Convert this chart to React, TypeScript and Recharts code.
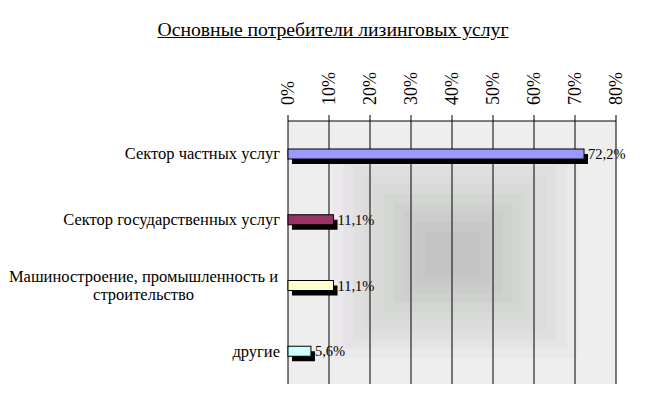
import React from 'react';
import { BarChart, Bar, XAxis, YAxis, CartesianGrid, LabelList } from 'recharts';

const categories = [
  'Сектор частных услуг',
  'Сектор государственных услуг',
  'Машиностроение, промышленность и строительство',
  'другие',
];
const values = [72.2, 11.1, 11.1, 5.6];
const valueLabels = ['72,2%', '11,1%', '11,1%', '5,6%'];
const xTicks = [0, 10, 20, 30, 40, 50, 60, 70, 80];
const frameTicks = [0, 1, 2, 3, 4];
const title = 'Основные потребители лизинговых услуг';

const barColors = ['#9999ff', '#993366', '#ffffcc', '#ccffff'];
const FONT = 'Liberation Serif, DejaVu Serif, serif';

// background rings (outer -> inner), colors of the plot-area fill
const ringColors = ['#ebe9eb', '#e6e3e6', '#e0dfe0', '#dbdcdb', '#d7dad7', '#d3d6d3', '#cfd1cf', '#cbcdcb', '#c7c8c7', '#c4c4c4'];

const data = categories.map((name, i) => ({ name, value: values[i], label: valueLabels[i] }));

const wrap = (s: string, max: number) => {
  const words = s.split(' ');
  const lines: string[] = [];
  let cur = '';
  for (const w of words) {
    const cand = cur ? cur + ' ' + w : w;
    if (cand.length > max && cur) {
      lines.push(cur);
      cur = w;
    } else cur = cand;
  }
  if (cur) lines.push(cur);
  return lines;
};

const ShadowBar = (props: any) => {
  const { x, y, width, height, index } = props;
  return (
    <g>
      <rect x={x + 4} y={y + 5} width={width} height={height} fill="#000" />
      <rect x={x} y={y} width={width} height={height} fill={barColors[index]} stroke="#000" strokeWidth={1} />
    </g>
  );
};

const YTick = (props: any) => {
  const { x, y, payload } = props;
  const lines = wrap(String(payload.value), 32);
  if (lines.length === 1) {
    return (
      <text x={x} y={y} textAnchor="end" dominantBaseline="central" fontFamily={FONT} fontSize={16.5} fill="#000">
        {lines[0]}
      </text>
    );
  }
  const cx = x - 136.5;
  return (
    <text x={cx} y={y} textAnchor="middle" fontFamily={FONT} fontSize={16.5} fill="#000">
      {lines.map((l, i) => (
        <tspan key={i} x={cx} y={y + (i - (lines.length - 1) / 2) * 18} dominantBaseline="central">
          {l}
        </tspan>
      ))}
    </text>
  );
};

const XTick = (props: any) => {
  const { x, y, payload } = props;
  return (
    <text
      x={x + 6}
      y={y}
      transform={`rotate(-90, ${x + 6}, ${y})`}
      textAnchor="start"
      fontFamily={FONT}
      fontSize={18}
      fill="#000"
    >
      {`${payload.value}%`}
    </text>
  );
};

// outer ring bounds (fraction of plot area) and inner ring bounds
const outer = { x0: 0.137, x1: 0.884, y0: 0.1, y1: 0.9 };
const inner = { x0: 0.418, x1: 0.585, y0: 0.42, y1: 0.586 };

export default function App() {
  const n = ringColors.length;
  return (
    <div style={{ position: 'absolute', left: 0, top: 0, width: 666, height: 399, background: '#fff' }}>
      <div
        style={{
          position: 'absolute',
          left: 0,
          top: 18,
          width: 666,
          textAlign: 'center',
          fontFamily: FONT,
          fontSize: 19.7,
          textDecoration: 'underline',
          color: '#000',
        }}
      >
        {title}
      </div>
      <BarChart
        width={666}
        height={399}
        data={data}
        layout="vertical"
        margin={{ top: 20, right: 50, bottom: 15, left: 0 }}
        barSize={10}
      >
        <defs>
          <pattern id="bgPat" patternUnits="objectBoundingBox" patternContentUnits="objectBoundingBox" x="0" y="0" width="1" height="1">
            <rect x="0" y="0" width="1" height="1" fill="#eeeeee" />
            {ringColors.map((c, i) => {
              const t = i / (n - 1);
              const x0 = outer.x0 + (inner.x0 - outer.x0) * t;
              const x1 = outer.x1 + (inner.x1 - outer.x1) * t;
              const y0 = outer.y0 + (inner.y0 - outer.y0) * t;
              const y1 = outer.y1 + (inner.y1 - outer.y1) * t;
              return <rect key={i} x={x0} y={y0} width={x1 - x0} height={y1 - y0} fill={c} />;
            })}
          </pattern>
        </defs>
        <CartesianGrid
          xAxisId="top"
          yAxisId="cat"
          horizontal={false}
          vertical={true}
          stroke="#000"
          strokeWidth={1}
          fill="url(#bgPat)"
          fillOpacity={1}
        />
        <XAxis
          xAxisId="top"
          type="number"
          orientation="top"
          domain={[0, 80]}
          ticks={xTicks}
          interval={0}
          height={101}
          tickSize={6}
          tickMargin={10}
          tick={<XTick />}
          axisLine={{ stroke: '#000' }}
          tickLine={{ stroke: '#000' }}
        />
        <XAxis
          xAxisId="bottom"
          type="number"
          orientation="bottom"
          domain={[0, 80]}
          height={0}
          tick={false}
          tickLine={false}
          axisLine={{ stroke: '#000' }}
        />
        <YAxis
          yAxisId="frame"
          type="number"
          domain={[0, 4]}
          ticks={frameTicks}
          interval={0}
          width={0}
          tickSize={6}
          tickFormatter={() => ''}
          axisLine={{ stroke: '#000' }}
          tickLine={{ stroke: '#000' }}
        />
        <YAxis
          yAxisId="cat"
          type="category"
          dataKey="name"
          width={288}
          tickSize={0}
          tickMargin={8}
          tickLine={false}
          axisLine={false}
          interval={0}
          tick={<YTick />}
        />
        <Bar xAxisId="top" yAxisId="cat" dataKey="value" shape={<ShadowBar />} isAnimationActive={false}>
          <LabelList
            dataKey="label"
            position="right"
            offset={4}
            fontFamily={FONT}
            fontSize={14.5}
            fill="#000"
          />
        </Bar>
      </BarChart>
    </div>
  );
}
